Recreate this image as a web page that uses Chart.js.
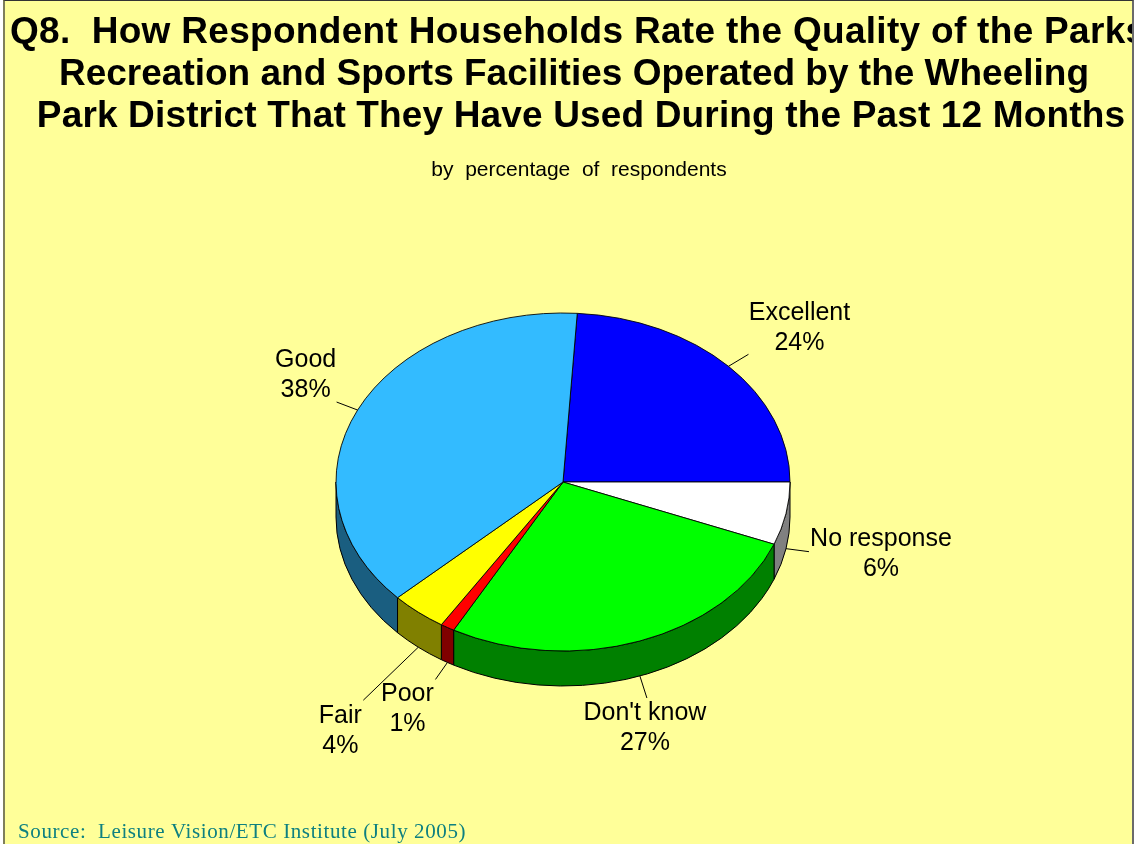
<!DOCTYPE html>
<html>
<head>
<meta charset="utf-8">
<title>Q8 Quality of Facilities</title>
<script src="https://cdn.jsdelivr.net/npm/chart.js@4.4.0/dist/chart.umd.min.js"></script>
<style>
  html, body { margin: 0; padding: 0; background: #ffffff; }
  #frame {
    position: absolute; left: 3px; top: 0; width: 1131px; height: 844px;
    box-sizing: border-box; background: #FFFF99;
    border-top: 1px solid #333333;
    border-left: 2px solid #7f7f5a;
    border-right: 2px solid #6b6b6b;
    overflow: hidden;
  }
  #pieChart { display: block; }
</style>
</head>
<body>
<div id="frame">
  <canvas id="pieChart" width="1127" height="843"></canvas>
</div>
<script>
// Survey answers, clockwise from the top of the pie
const categories = ['Excellent', 'No response', "Don't know", 'Poor', 'Fair', 'Good'];
const percentages = [24, 6, 27, 1, 4, 38];
const topColors = ['#0000FF', '#FFFFFF', '#00FF00', '#FF0000', '#FFFF00', '#33BBFF'];
const sideColors = ['#000080', '#808080', '#008000', '#800000', '#808000', '#1A5E80'];

const titleLines = [
    'Q8.  How Respondent Households Rate the Quality of the Parks',
    'Recreation and Sports Facilities Operated by the Wheeling',
    'Park District That They Have Used During the Past 12 Months'
];
const subtitleText = 'by  percentage  of  respondents';
const sourceText = 'Source:  Leisure Vision/ETC Institute (July 2005)';

// leader line end (from the slice edge) and label offset (from the leader end)
const labelPlacement = [
    { leader: [20, -12], text: [51, -34] },
    { leader: [23, 3], text: [72, -6] },
    { leader: [7, 22], text: [-2, 22] },
    { leader: [-12, 17], text: [-28, 22] },
    { leader: [-55, 53], text: [-23, 23] },
    { leader: [-21, -8], text: [-31, -35] }
];

const TILT = 169 / 227;   // vertical squash of the pie
const DEPTH = 35;         // thickness of the pie edge
const LABEL_FONT = '25px "Liberation Sans", Arial, sans-serif';

// Draws the pie edge, then squashes the slices into an ellipse
const pie3d = {
    id: 'pie3d',
    beforeDatasetsDraw(chart) {
        const ctx = chart.ctx;
        const arcs = chart.getDatasetMeta(0).data;
        const cx = arcs[0].x, cy = arcs[0].y, r = arcs[0].outerRadius;
        const ry = r * TILT;

        ctx.save();
        ctx.lineWidth = 1;
        ctx.strokeStyle = '#000000';
        arcs.forEach((arc, i) => {
            // only the front half of the edge is visible
            const s = Math.max(arc.startAngle, 0);
            const e = Math.min(arc.endAngle, Math.PI);
            if (e <= s) return;
            ctx.beginPath();
            ctx.ellipse(cx, cy, r, ry, 0, s, e, false);
            ctx.ellipse(cx, cy + DEPTH, r, ry, 0, e, s, true);
            ctx.closePath();
            ctx.fillStyle = sideColors[i];
            ctx.fill();
            ctx.stroke();
        });
        ctx.restore();

        ctx.save();
        ctx.translate(cx, cy);
        ctx.scale(1, TILT);
        ctx.translate(-cx, -cy);
    },
    afterDatasetsDraw(chart) {
        chart.ctx.restore();
    }
};

// Category labels with leader lines
const sliceLabels = {
    id: 'sliceLabels',
    afterDatasetsDraw(chart) {
        const ctx = chart.ctx;
        const arcs = chart.getDatasetMeta(0).data;
        const cx = arcs[0].x, cy = arcs[0].y, r = arcs[0].outerRadius;
        const ry = r * TILT;

        ctx.save();
        ctx.strokeStyle = '#000000';
        ctx.lineWidth = 1;
        ctx.fillStyle = '#000000';
        ctx.font = LABEL_FONT;
        ctx.textAlign = 'center';
        ctx.textBaseline = 'alphabetic';
        arcs.forEach((arc, i) => {
            const mid = (arc.startAngle + arc.endAngle) / 2;
            const ax = cx + r * Math.cos(mid);
            const ay = cy + ry * Math.sin(mid) + (Math.sin(mid) > 0 ? DEPTH : 0);
            const p = labelPlacement[i];
            const ex = ax + p.leader[0], ey = ay + p.leader[1];
            ctx.beginPath();
            ctx.moveTo(ax, ay);
            ctx.lineTo(ex, ey);
            ctx.stroke();
            const tx = ex + p.text[0], ty = ey + p.text[1];
            ctx.fillText(categories[i], tx, ty);
            ctx.fillText(percentages[i] + '%', tx, ty + 30);
        });
        ctx.restore();
    }
};

// Headline, subtitle and source note
const chartText = {
    id: 'chartText',
    afterDraw(chart) {
        const ctx = chart.ctx;
        ctx.save();
        ctx.fillStyle = '#000000';
        ctx.textBaseline = 'alphabetic';
        ctx.font = 'bold 37px "Liberation Sans", Arial, sans-serif';
        // first line is wider than the frame and runs off the right edge
        ctx.textAlign = 'left';
        ctx.letterSpacing = '0.3px';
        ctx.fillText(titleLines[0], 5, 42);
        ctx.letterSpacing = '0px';
        ctx.textAlign = 'center';
        ctx.fillText(titleLines[1], 569, 84);
        ctx.letterSpacing = '0.15px';
        ctx.fillText(titleLines[2], 576, 126);
        ctx.letterSpacing = '0px';

        ctx.font = '21px "Liberation Sans", Arial, sans-serif';
        ctx.fillText(subtitleText, 574, 175);

        ctx.textAlign = 'left';
        ctx.fillStyle = '#0E8080';
        ctx.font = '21px "Liberation Serif", "Times New Roman", serif';
        ctx.letterSpacing = '0.6px';
        ctx.fillText(sourceText, 13, 837);
        ctx.restore();
    }
};

new Chart(document.getElementById('pieChart'), {
    type: 'pie',
    data: {
        labels: categories,
        datasets: [{
            data: percentages,
            backgroundColor: topColors,
            borderColor: '#000000',
            borderWidth: 1,
            clip: false
        }]
    },
    options: {
        responsive: false,
        animation: false,
        events: [],
        rotation: 3.6,
        radius: 227,
        layout: {
            padding: { left: 331, right: 342, top: 254, bottom: 135 }
        },
        plugins: {
            legend: { display: false },
            title: { display: false },
            tooltip: { enabled: false }
        }
    },
    plugins: [pie3d, sliceLabels, chartText]
});
</script>
</body>
</html>
